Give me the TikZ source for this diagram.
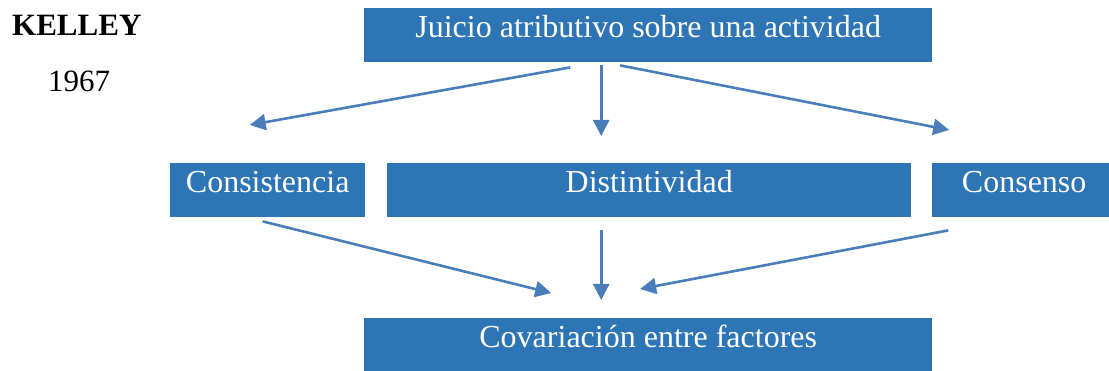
\documentclass[tikz,border=0pt]{standalone}
\usepackage{fontspec}
\setmainfont{Liberation Serif}
\usepackage{tikz}
\usetikzlibrary{arrows.meta, positioning, calc}

\definecolor{boxblue}{RGB}{46,117,182}
\definecolor{arrowblue}{RGB}{74,126,187}

\tikzset{
  caja/.style={rectangle, fill=boxblue, text=white, anchor=north west,
    inner xsep=0pt, inner ysep=0pt, text height=29pt, text depth=25pt,
    font=\fontsize{32}{38}\selectfont},
  flecha/.style={draw=arrowblue, line width=2.6pt,
    -{Triangle[length=16pt, width=16pt]}}
}

\begin{document}
\begin{tikzpicture}[x=1pt, y=-1pt]
\useasboundingbox (0,0) rectangle (1109,371);
\clip (0,0) rectangle (1109,371);

% Author and year
\node[anchor=base west, inner sep=0pt, font=\fontsize{31}{37}\selectfont\bfseries] (autor) at (12,36) {KELLEY};
\node[anchor=base west, inner sep=0pt, font=\fontsize{31}{37}\selectfont] (anio) at (48,92) {1967};

% Boxes
\node[caja, minimum width=568pt] (juicio) at (364,8) {Juicio atributivo sobre una actividad};
\node[caja, minimum width=195pt] (consist) at (170,163) {Consistencia};
\node[caja, minimum width=524pt] (distin) at (387,163) {Distintividad};
\node[caja, minimum width=184pt] (consen) at (932,163) {Consenso};
\node[caja, minimum width=568pt] (covar) at (364,318) {Covariaci\'on entre factores};

% Arrows from the top box
\draw[flecha] ([xshift=-78pt, yshift=-5pt]juicio.south) -- ([xshift=-18pt, yshift=38pt]consist.north);
\draw[flecha] ([xshift=-47pt, yshift=-3pt]juicio.south) -- ([xshift=-48pt, yshift=27pt]distin.north);
\draw[flecha] ([xshift=-28pt, yshift=-3pt]juicio.south) -- ([xshift=-75pt, yshift=33pt]consen.north);

% Arrows to the bottom box
\draw[flecha] ([xshift=-5pt, yshift=-4pt]consist.south) -- ([xshift=-97pt, yshift=25pt]covar.north);
\draw[flecha] ([xshift=-48pt, yshift=-13pt]distin.south) -- ([xshift=-47pt, yshift=18pt]covar.north);
\draw[flecha] ([xshift=-76pt, yshift=-13pt]consen.south) -- ([xshift=-8pt, yshift=29pt]covar.north);
\end{tikzpicture}
\end{document}
